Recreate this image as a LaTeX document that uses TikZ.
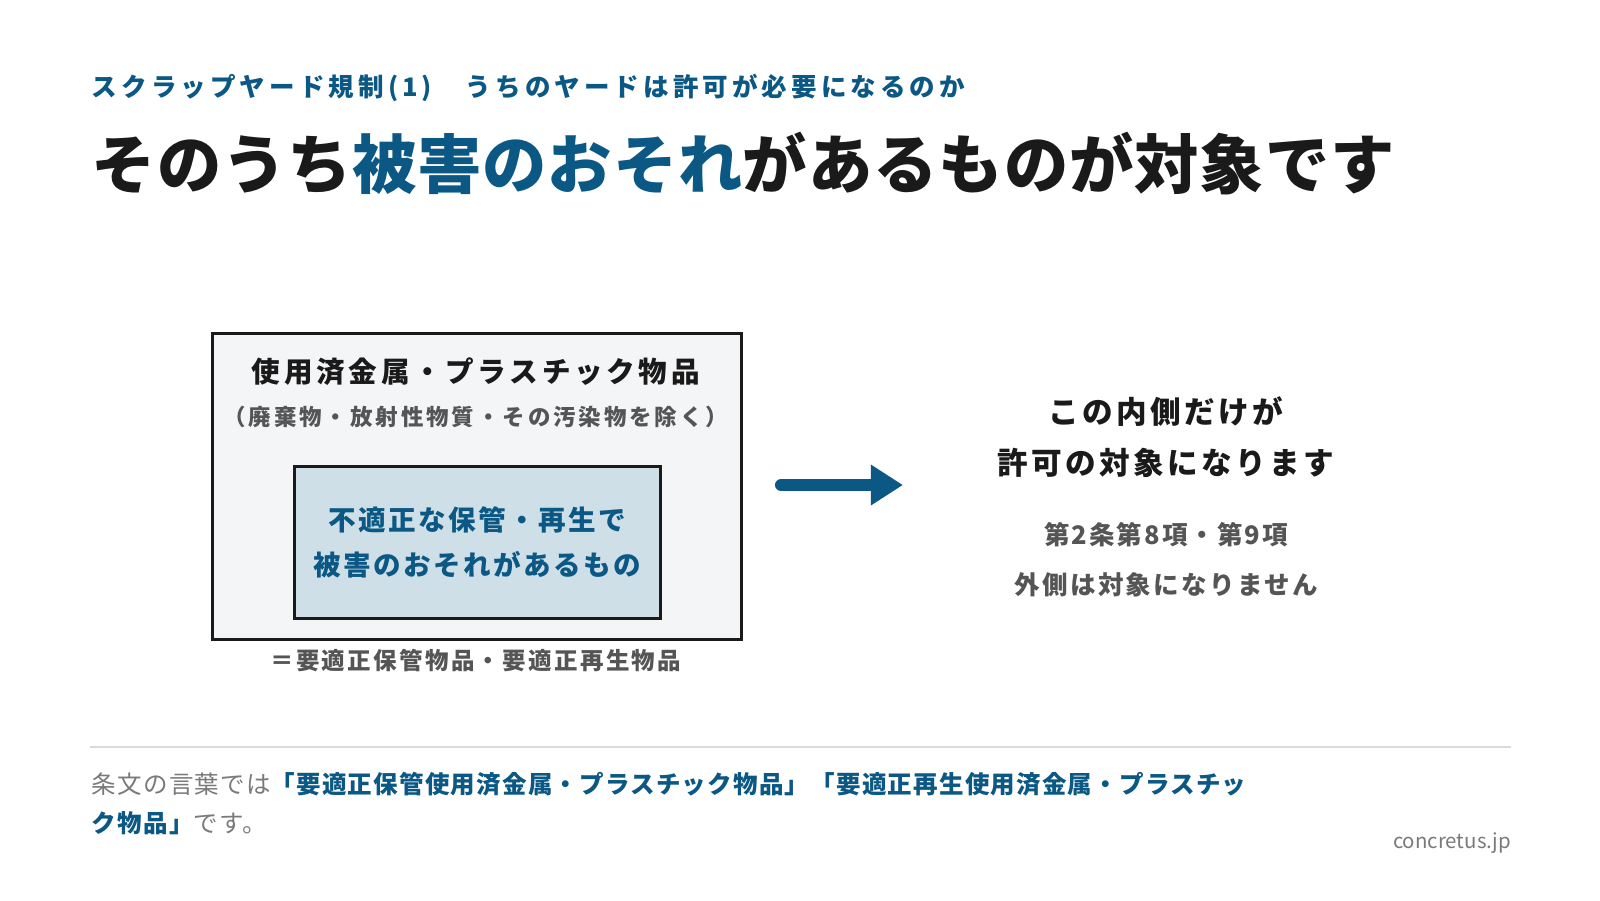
\documentclass[tikz,border=0pt]{standalone}
\usepackage{fontspec}
\setmainfont{Noto Sans CJK JP}
\definecolor{brand}{HTML}{0B5884}
\definecolor{ink}{HTML}{1A1A1A}
\definecolor{graytxt}{HTML}{555555}
\definecolor{lightgray}{HTML}{7A7A7A}
\definecolor{outerfill}{HTML}{F4F5F7}
\definecolor{innerfill}{HTML}{CFDFE8}
\definecolor{rulegray}{HTML}{D8DADD}
\newcommand{\ls}[1]{\addfontfeatures{LetterSpace=#1}}
\tikzset{
  txt/.style={inner sep=0pt, outer sep=0pt},
  outerbox/.style={draw=ink, line width=3pt, fill=outerfill},
  innerbox/.style={draw=ink, line width=3pt, fill=innerfill},
}
\begin{document}
\begin{tikzpicture}[x=1pt,y=-1pt]
\useasboundingbox[fill=white] (0,0) rectangle (1567,881.5);
% header
\node[txt, anchor=west, text=brand] (sub) at (90,86)
  {\fontsize{25}{30}\selectfont\bfseries\ls{16}スクラップヤード規制(1)　うちのヤードは許可が必要になるのか};
\node[txt, anchor=west, text=ink] (title) at (90,160)
  {\fontsize{63}{76}\selectfont\bfseries\ls{1.5}そのうち\textcolor{brand}{被害のおそれ}があるものが対象です};
% boxes
\node[outerbox, minimum width=518, minimum height=300, anchor=north west, inner sep=0pt] (outer) at (207,325) {};
\node[txt, text=ink] (otitle) at (466,364)
  {\fontsize{28}{34}\selectfont\bfseries\ls{13}使用済金属・プラスチック物品};
\node[txt, text=graytxt] (osub) at (466,408)
  {\fontsize{22}{26}\selectfont\bfseries\ls{13}（廃棄物・放射性物質・その汚染物を除く）};
\node[innerbox, minimum width=358, minimum height=149, anchor=north west, inner sep=0pt] (inner) at (287,455) {};
\node[txt, text=brand, align=center, font={\fontsize{27}{44}\selectfont\bfseries\ls{9}}] (itext) at (inner.center)
  {不適正な保管・再生で\\被害のおそれがあるもの};
\node[txt, text=graytxt] (eq) at (466,647)
  {\fontsize{23}{28}\selectfont\bfseries\ls{10}＝要適正保管物品・要適正再生物品};
% arrow
\coordinate (a1) at (765,475);
\coordinate (a2) at (855,475);
\draw[brand, line width=12pt, line cap=round] (a1) -- (a2);
\fill[brand] (853,455) -- (884,475) -- (853,495) -- cycle;
% right texts
\node[txt, text=ink, align=center, font={\fontsize{30}{50}\selectfont\bfseries\ls{11}}] (rtext) at (1142,428)
  {この内側だけが\\許可の対象になります};
\node[txt, text=graytxt] (art) at (1142,524)
  {\fontsize{25}{30}\selectfont\bfseries\ls{8}第2条第8項・第9項};
\node[txt, text=graytxt] (outside) at (1142,573)
  {\fontsize{25}{30}\selectfont\bfseries\ls{9}外側は対象になりません};
% footer rule
\coordinate (r1) at (88,732);
\coordinate (r2) at (1480,732);
\draw[rulegray, line width=2pt] (r1) -- (r2);
\node[txt, anchor=west] (f1) at (90,768)
  {\fontsize{24}{28}\selectfont\ls{5}\textcolor{lightgray}{条文の言葉では}\textcolor{brand}{\bfseries「要適正保管使用済金属・プラスチック物品」「要適正再生使用済金属・プラスチッ}};
\node[txt, anchor=west] (f2) at (90,806)
  {\fontsize{24}{28}\selectfont\ls{5}\textcolor{brand}{\bfseries ク物品」}\textcolor{lightgray}{です。}};
\node[txt, anchor=east, text=lightgray] (brandtxt) at (1480,826)
  {\fontsize{20}{24}\selectfont concretus.jp};
\end{tikzpicture}
\end{document}
